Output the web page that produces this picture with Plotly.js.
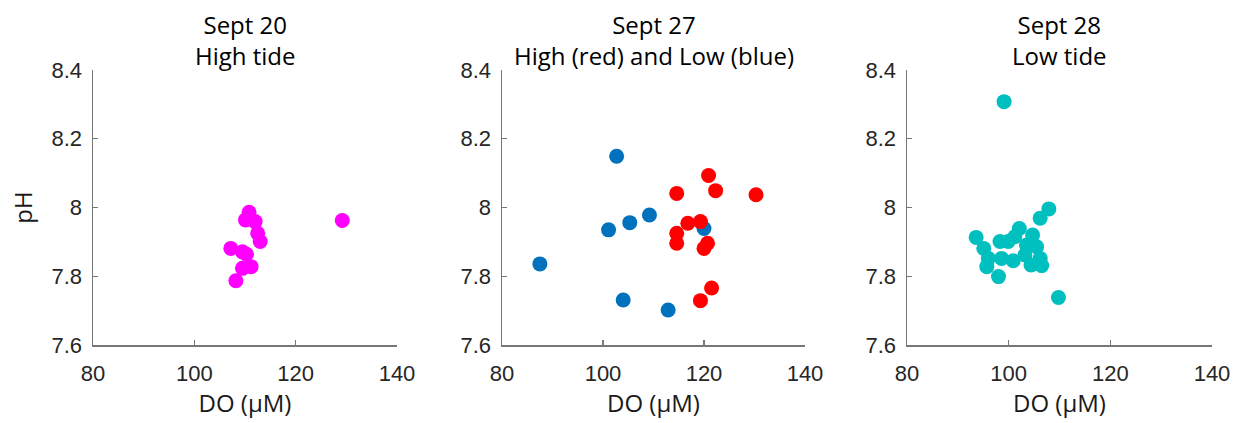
<!DOCTYPE html>
<html>
<head>
<meta charset="utf-8">
<script src="https://cdn.plot.ly/plotly-3.0.1.min.js"></script>
<style>html,body{margin:0;padding:0;background:#fff;}#chart{width:1237px;height:423px;}</style>
</head>
<body>
<div id="chart"></div>
<script>
// Sept 20, high tide
const sep20DO = [110.8, 110.1, 112.0, 112.5, 113.0, 107.2, 109.5, 110.3, 109.5, 111.2, 108.2, 129.2];
const sep20pH = [7.986, 7.964, 7.959, 7.925, 7.901, 7.881, 7.871, 7.864, 7.823, 7.828, 7.787, 7.962];

// Sept 27, low tide (blue)
const sep27LowDO = [102.7, 87.5, 101.1, 105.3, 109.2, 120.0, 104.0, 112.9];
const sep27LowpH = [8.149, 7.836, 7.935, 7.956, 7.978, 7.939, 7.731, 7.702];

// Sept 27, high tide (red)
const sep27HighDO = [120.9, 114.6, 122.3, 130.3, 116.8, 119.3, 114.6, 114.6, 120.7, 120.0, 121.5, 119.3];
const sep27HighpH = [8.093, 8.041, 8.049, 8.037, 7.954, 7.959, 7.925, 7.896, 7.896, 7.881, 7.766, 7.729];

// Sept 28, low tide
const sep28DO = [99.1, 107.9, 106.2, 102.1, 101.2, 93.6, 98.3, 99.9, 104.7, 105.5, 103.5, 95.1, 96.0, 98.6, 100.9, 95.7, 104.4, 106.2, 106.5, 98.0, 103.2, 109.8];
const sep28pH = [8.308, 7.996, 7.969, 7.939, 7.915, 7.913, 7.901, 7.901, 7.920, 7.886, 7.891, 7.881, 7.852, 7.852, 7.845, 7.828, 7.833, 7.852, 7.831, 7.799, 7.862, 7.738];

const xTicks = [80, 100, 120, 140];
const yTicks = [7.6, 7.8, 8, 8.2, 8.4];
const yTickText = ['7.6', '7.8', '8', '8.2', '8.4'];

const titles = [
  'Sept 20<br>High tide',
  'Sept 27<br>High (red) and Low (blue)',
  'Sept 28<br>Low tide'
];

const mk = (c) => ({size: 15, color: c, line: {width: 0}});
const traces = [
  {x: sep20DO, y: sep20pH, type: 'scatter', mode: 'markers', marker: mk('#FF00FF'), xaxis: 'x', yaxis: 'y'},
  {x: sep27LowDO, y: sep27LowpH, type: 'scatter', mode: 'markers', marker: mk('#0072BD'), xaxis: 'x2', yaxis: 'y2'},
  {x: sep27HighDO, y: sep27HighpH, type: 'scatter', mode: 'markers', marker: mk('#FF0000'), xaxis: 'x2', yaxis: 'y2'},
  {x: sep28DO, y: sep28pH, type: 'scatter', mode: 'markers', marker: mk('#00BFBF'), xaxis: 'x3', yaxis: 'y3'}
];

const W = 1237, H = 423;
const xDom = [[93/W, 397/W], [502/W, 805/W], [907/W, 1212/W]];
const yDom = [1 - 345/H, 1 - 70/H];
const tickFont = {family: 'Liberation Sans, Arial, sans-serif', size: 22, color: '#262626'};
const titleFont = {family: 'Open Sans, sans-serif', size: 24, color: '#1a1a1a'};

function xa(i) {
  return {
    domain: xDom[i], range: [80, 140], tickvals: xTicks, ticktext: xTicks.map(String),
    showgrid: false, zeroline: false, showline: true, linecolor: '#777', linewidth: 1.5,
    ticks: 'inside', ticklen: 5, tickcolor: '#777', tickwidth: 1.2, tickfont: tickFont,
    ticklabelstandoff: 8,
    anchor: i === 0 ? 'y' : 'y' + (i + 1), fixedrange: true,
    title: {text: 'DO (µM)', font: titleFont, standoff: 6}
  };
}
function ya(i) {
  return {
    domain: yDom, range: [7.6, 8.4], tickvals: yTicks, ticktext: yTickText,
    showgrid: false, zeroline: false, showline: true, linecolor: '#777', linewidth: 1.5,
    ticks: 'inside', ticklen: 5, tickcolor: '#777', tickwidth: 1.2, tickfont: tickFont,
    ticklabelstandoff: 5,
    anchor: i === 0 ? 'x' : 'x' + (i + 1), fixedrange: true,
    title: i === 0 ? {text: 'pH', font: titleFont, standoff: 12} : {text: ''}
  };
}

const annotations = titles.map((t, i) => ({
  text: t, x: (xDom[i][0] + xDom[i][1]) / 2, y: 1 - 40/H,
  xref: 'paper', yref: 'paper', xanchor: 'center', yanchor: 'middle', showarrow: false,
  font: {family: 'Open Sans, sans-serif', size: 24, color: '#000'}
}));

const layout = {
  width: W, height: H,
  margin: {l: 0, r: 0, t: 0, b: 0},
  paper_bgcolor: '#fff', plot_bgcolor: '#fff',
  showlegend: false,
  xaxis: xa(0), yaxis: ya(0),
  xaxis2: xa(1), yaxis2: ya(1),
  xaxis3: xa(2), yaxis3: ya(2),
  annotations: annotations
};

Plotly.newPlot('chart', traces, layout, {displayModeBar: false, staticPlot: true});
</script>
</body>
</html>
